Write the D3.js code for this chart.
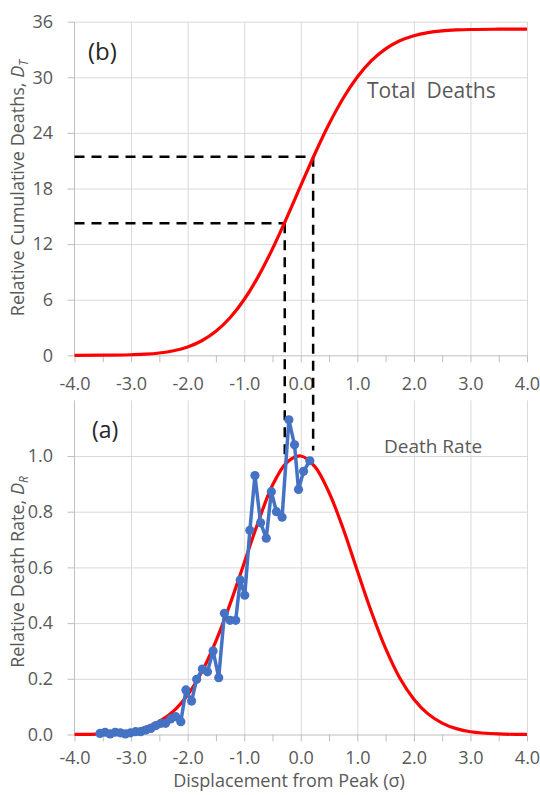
<!DOCTYPE html>
<html><head><meta charset="utf-8">
<script src="https://cdn.jsdelivr.net/npm/d3@7"></script>
<style>
body{margin:0;background:#fff;}
svg text{font-family:"Open Sans","Noto Sans",sans-serif;}
</style>
</head><body><svg id="c" width="540" height="795"></svg>
<script>
// ---------- data ----------
const xTicks = [-4, -3, -2, -1, 0, 1, 2, 3, 4];
const xTickLabels = ["-4.0", "-3.0", "-2.0", "-1.0", "0.0", "1.0", "2.0", "3.0", "4.0"];
const xMinorTicks = [-4, -3.5, -3, -2.5, -2, -1.5, -1, -0.5, 0, 0.5, 1, 1.5, 2, 2.5, 3, 3.5, 4];
const totalTicks = [0, 6, 12, 18, 24, 30, 36];
const totalTickLabels = ["0", "6", "12", "18", "24", "30", "36"];
const rateTicks = [0, 0.2, 0.4, 0.6, 0.8, 1.0];
const rateTickLabels = ["0.0", "0.2", "0.4", "0.6", "0.8", "1.0"];

// model curves
const curveX = [-4, -3.5, -3, -2.75, -2.5, -2.25, -2, -1.75, -1.5, -1.25, -1, -0.75, -0.5, -0.25,
  0, 0.25, 0.5, 0.75, 1, 1.25, 1.5, 1.75, 2, 2.25, 2.5, 2.75, 3, 3.5, 4];
const totalDeaths = [0.0, 0.01, 0.06, 0.12, 0.25, 0.49, 0.90, 1.57, 2.59, 4.05, 6.02, 8.52, 11.49, 14.81,
  18.30, 21.75, 24.95, 27.74, 30.03, 31.79, 33.07, 33.94, 34.49, 34.82, 35.01, 35.11, 35.16, 35.19, 35.2];
const modelRate = [0.0004, 0.0024, 0.012, 0.025, 0.047, 0.084, 0.142, 0.224, 0.335, 0.468, 0.616, 0.764, 0.895, 0.976,
  1.0, 0.962, 0.869, 0.739, 0.588, 0.440, 0.309, 0.203, 0.127, 0.074, 0.041, 0.021, 0.010, 0.002, 0.0003];

// observed death rate
const obsX = [-3.55, -3.46, -3.37, -3.28, -3.19, -3.10, -3.01, -2.92, -2.83, -2.74, -2.65, -2.56, -2.47, -2.39,
  -2.30, -2.21, -2.12, -2.03, -1.93, -1.84, -1.74, -1.65, -1.55, -1.45, -1.35, -1.25, -1.15, -1.07, -0.99,
  -0.90, -0.81, -0.71, -0.61, -0.52, -0.43, -0.33, -0.21, -0.11, -0.04, 0.05, 0.16];
const obsRate = [0.004, 0.008, 0.002, 0.008, 0.006, 0.002, 0.006, 0.010, 0.010, 0.016, 0.022, 0.032, 0.040, 0.040,
  0.056, 0.064, 0.046, 0.160, 0.120, 0.198, 0.235, 0.225, 0.300, 0.204, 0.435, 0.410, 0.410, 0.555, 0.500,
  0.733, 0.930, 0.760, 0.705, 0.872, 0.800, 0.780, 1.130, 1.040, 0.880, 0.945, 0.983];

// dashed guide lines
const guideX = [-0.283, 0.219];
const guideTotal = [14.24, 21.42];
const guideRate = [0.98, 1.02];

// ---------- setup ----------
const svg = d3.select("#c");
const TXT = "#595959", GRID = "#d9d9d9", AX = "#bfbfbf";
const x = d3.scaleLinear().domain([-4, 4]).range([74.5, 527]);
const yT = d3.scaleLinear().domain([0, 36]).range([355.3, 21.7]);
const yR = d3.scaleLinear().domain([0, 1.2]).range([734.5, 400.3]);

function styleAxis(g) {
  g.select(".domain").remove();
  g.selectAll("line").attr("stroke", GRID).attr("stroke-width", 1);
}

function panel(y, yTicks, yLabels, yTop, gridY, labelPad) {
  const g = svg.append("g");
  const plotW = x(4) - x(-4);
  g.append("g").attr("transform", `translate(0,${y(0)})`)
    .call(d3.axisBottom(x).tickValues(xTicks.slice(1)).tickSize(-(y(0) - y(yTop))).tickFormat(""))
    .call(styleAxis);
  g.append("g").attr("transform", `translate(${x(-4)},0)`)
    .call(d3.axisLeft(y).tickValues(gridY).tickSize(-plotW).tickFormat(""))
    .call(styleAxis);
  g.append("g").attr("transform", `translate(${x(-4)},0)`)
    .call(d3.axisLeft(y).tickValues(yTicks).tickSize(7).tickSizeOuter(0).tickFormat(""))
    .call(a => { a.select(".domain").attr("stroke", AX).attr("d", `M0,${y(yTop)}V${y(0)}`); a.selectAll("line").attr("stroke", AX); });
  g.append("g").attr("transform", `translate(0,${y(0)})`)
    .call(d3.axisBottom(x).tickValues(xMinorTicks).tickSize(7).tickSizeOuter(0).tickFormat(""))
    .call(a => { a.select(".domain").attr("stroke", AX); a.selectAll("line").attr("stroke", AX); });
  g.append("g").attr("transform", `translate(0,${y(0)})`)
    .call(d3.axisBottom(x).tickValues(xTicks).tickSize(0).tickPadding(labelPad).tickFormat((d, i) => xTickLabels[i]))
    .call(a => { a.select(".domain").remove(); a.selectAll("text").attr("fill", TXT).attr("font-size", 18).attr("font-family", "Open Sans"); });
  g.append("g").attr("transform", `translate(${x(-4)},0)`)
    .call(d3.axisLeft(y).tickValues(yTicks).tickSize(0).tickPadding(21.5).tickFormat((d, i) => yLabels[i]))
    .call(a => { a.select(".domain").remove(); a.selectAll("text").attr("fill", TXT).attr("font-size", 18).attr("font-family", "Open Sans"); });
  return g;
}

const panelTop = panel(yT, totalTicks, totalTickLabels, 36, totalTicks.slice(1), 22);
const panelBot = panel(yR, rateTicks, rateTickLabels, 1.2, rateTicks.slice(1), 16.5);

// ---------- dashed guides ----------
const guides = svg.append("g").attr("stroke", "#000").attr("stroke-width", 2.5)
  .attr("stroke-dasharray", "10,7").attr("fill", "none");
guideX.forEach((gx, i) => {
  guides.append("path").attr("d", `M${x(-4)},${yT(guideTotal[i])}H${x(gx)}`);
  guides.append("path").attr("d", `M${x(gx)},${yT(guideTotal[i])}V${yR(guideRate[i])}`);
});

// ---------- curves ----------
const lineT = d3.line().x((d, i) => x(curveX[i])).y(d => yT(d)).curve(d3.curveMonotoneX);
const lineR = d3.line().x((d, i) => x(curveX[i])).y(d => yR(d)).curve(d3.curveCatmullRom.alpha(0.5));
svg.append("path").attr("d", lineT(totalDeaths)).attr("fill", "none").attr("stroke", "#ff0000").attr("stroke-width", 3.2);
svg.append("path").attr("d", lineR(modelRate)).attr("fill", "none").attr("stroke", "#ff0000").attr("stroke-width", 3.2);

const lineO = d3.line().x((d, i) => x(obsX[i])).y(d => yR(d));
svg.append("path").attr("d", lineO(obsRate)).attr("fill", "none").attr("stroke", "#4472c4").attr("stroke-width", 3.5).attr("stroke-linejoin", "round");
svg.append("g").selectAll("circle").data(obsRate).join("circle")
  .attr("cx", (d, i) => x(obsX[i])).attr("cy", d => yR(d)).attr("r", 4.6).attr("fill", "#4472c4");

// ---------- texts ----------
svg.append("text").attr("x", 88).attr("y", 60).attr("font-size", 24).attr("fill", "#262626").text("(b)");
svg.append("text").attr("x", 92).attr("y", 438).attr("font-size", 23).attr("fill", "#262626").text("(a)");
svg.append("text").attr("x", 367).attr("y", 98).attr("font-size", 21).attr("fill", TXT)
  .style("white-space", "pre").text("Total  Deaths");
svg.append("text").attr("x", 384).attr("y", 453).attr("font-size", 19).attr("fill", TXT).text("Death Rate");

function yTitle(cy, main, sub) {
  const t = svg.append("text").attr("transform", `translate(24,${cy}) rotate(-90)`)
    .attr("text-anchor", "middle").attr("font-size", 18).attr("fill", TXT);
  t.append("tspan").text(main);
  t.append("tspan").attr("font-style", "italic").text("D");
  t.append("tspan").attr("font-style", "italic").attr("font-size", 12).attr("dy", 4).text(sub);
}
yTitle(188, "Relative Cumulative Deaths, ", "T");
yTitle(572, "Relative Death Rate, ", "R");

svg.append("text").attr("x", 289).attr("y", 787).attr("text-anchor", "middle")
  .attr("font-size", 18).attr("fill", TXT).text("Displacement from Peak (σ)");
</script>
</body></html>
